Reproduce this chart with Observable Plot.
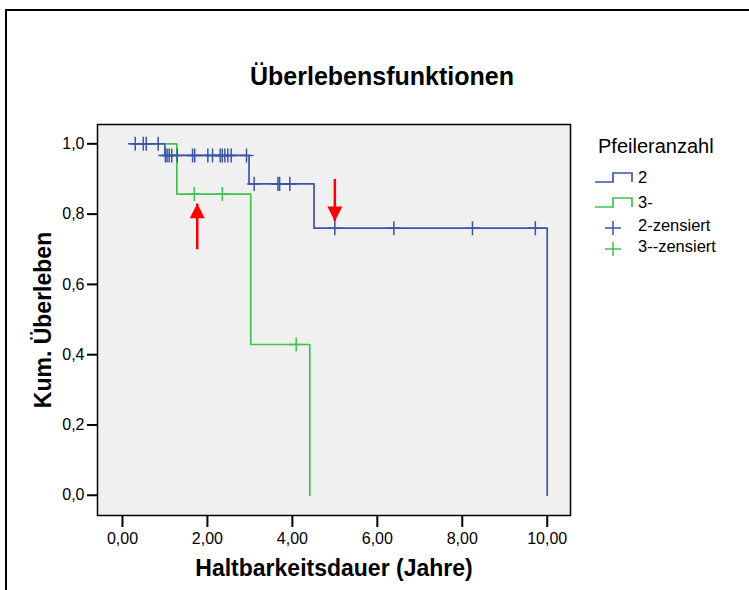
<!DOCTYPE html>
<html>
<head>
<meta charset="utf-8">
<script src="https://cdn.jsdelivr.net/npm/d3@7"></script>
<script src="https://cdn.jsdelivr.net/npm/@observablehq/plot@0.6"></script>
<style>
  body { margin: 0; background: #fff; font-family: "Liberation Sans", Arial, sans-serif; }
  #page { position: relative; width: 749px; height: 590px; overflow: hidden; }
  #border { position: absolute; left: 5px; top: 9px; right: -10px; bottom: -10px;
            border-top: 2px solid #000; border-left: 2px solid #000; }
  #title { position: absolute; left: 0; width: 764px; top: 62px; text-align: center;
           font-weight: bold; font-size: 25px; color: #000; }
  #chart { position: absolute; left: 0; top: 0; }
  #legend { position: absolute; left: 0; top: 0; pointer-events: none; }
</style>
</head>
<body>
<div id="page">
  <div id="border"></div>
  <div id="title">Überlebensfunktionen</div>
  <div id="chart"></div>
  <svg id="legend" width="749" height="590"></svg>
</div>
<script>
// Groups (number of abutments) and their colours
const groups = ["2", "3-"];
const groupColors = ["#3b55a7", "#3ec34e"];

// Kaplan–Meier estimate: step start/change points (time in years, cumulative survival)
const timeG2 = [0.18, 1.00, 2.98, 4.51, 10.00];
const survG2 = [1.000, 0.967, 0.886, 0.760, 0.000];
const timeG3 = [0.71, 1.28, 3.02, 4.41];
const survG3 = [1.000, 0.857, 0.429, 0.000];

// Censored observations (time in years)
const censG2 = [0.30, 0.49, 0.56, 0.84, 1.01, 1.05, 1.10, 1.16, 1.29, 1.65, 1.70,
                2.01, 2.12, 2.30, 2.35, 2.41, 2.48, 2.56, 2.92,
                3.10, 3.66, 3.70, 3.94, 5.00, 6.39, 8.24, 9.72];
const censG3 = [1.69, 2.35, 4.09];

// Red arrows: x position, tail and tip on the survival axis
const arrowX = [1.76, 5.00];
const arrowTail = [0.70, 0.90];
const arrowTip = [0.83, 0.78];

// Axis ticks
const xTicks = [0, 2, 4, 6, 8, 10];
const yTicks = [0, 0.2, 0.4, 0.6, 0.8, 1.0];

// survival level of a step function at time t
function levelAt(times, surv, t) {
  let s = surv[0];
  for (let i = 0; i < times.length; i++) if (times[i] <= t) s = surv[i];
  return s;
}

const curves = [
  ...timeG2.map((t, i) => ({group: groups[0], t, s: survG2[i]})),
  ...timeG3.map((t, i) => ({group: groups[1], t, s: survG3[i]}))
];
const censored = [
  ...censG2.map(t => ({group: groups[0], t, s: levelAt(timeG2, survG2, t)})),
  ...censG3.map(t => ({group: groups[1], t, s: levelAt(timeG3, survG3, t)}))
];
const arrows = arrowX.map((x, i) => ({x, tail: arrowTail[i], tip: arrowTip[i], up: arrowTip[i] > arrowTail[i]}));

// filled arrow heads, tip at the symbol origin
const headUp = {draw(c) { c.moveTo(0, 0); c.lineTo(7.5, 14.6); c.lineTo(-7.5, 14.6); c.closePath(); }};
const headDown = {draw(c) { c.moveTo(0, 0); c.lineTo(7.5, -14.6); c.lineTo(-7.5, -14.6); c.closePath(); }};

const comma = (d, n) => d.toFixed(n).replace(".", ",");
const font = "Liberation Sans, Arial, sans-serif";

const chart = Plot.plot({
  width: 749,
  height: 590,
  marginLeft: 97,
  marginRight: 179,
  marginTop: 124,
  marginBottom: 75,
  style: {fontFamily: font, fontSize: "16px", color: "#000", background: "transparent"},
  x: {domain: [-0.588, 10.548]},
  y: {domain: [-0.0576, 1.055]},
  color: {domain: groups, range: groupColors},
  marks: [
    Plot.frame({fill: "#f0f0f0", stroke: null}),
    Plot.line(curves, {x: "t", y: "s", z: "group", stroke: "group", curve: "step-after", strokeWidth: 1.7}),
    Plot.dot(censored, {x: "t", y: "s", stroke: "group", symbol: "plus", r: 4.6, strokeWidth: 1.5}),
    Plot.link(arrows, {x1: "x", x2: "x", y1: "tail", y2: "tip", stroke: "#ff0000", strokeWidth: 2.5}),
    Plot.dot(arrows.filter(d => d.up), {x: "x", y: "tip", symbol: headUp, fill: "#ff0000", stroke: null}),
    Plot.dot(arrows.filter(d => !d.up), {x: "x", y: "tip", symbol: headDown, fill: "#ff0000", stroke: null}),
    Plot.axisX({ticks: xTicks, tickFormat: d => comma(d, 2), tickSize: 12, tickPadding: 5,
                strokeWidth: 2, fontSize: 16, label: null}),
    Plot.axisY({ticks: yTicks, tickFormat: d => comma(d, 1), tickSize: 10, tickPadding: 3,
                strokeWidth: 2, fontSize: 16, label: null}),
    Plot.text(["Haltbarkeitsdauer (Jahre)"], {frameAnchor: "bottom", dy: 60, text: d => d,
                fontWeight: "bold", fontSize: 23}),
    Plot.text(["Kum. Überleben"], {frameAnchor: "left", dx: -54, rotate: -90, textAnchor: "middle",
                text: d => d, fontWeight: "bold", fontSize: 23}),
    Plot.frame({stroke: "#000", strokeWidth: 1.5})
  ]
});
document.getElementById("chart").appendChild(chart);

// Legend
const lg = d3.select("#legend");
lg.append("text").attr("x", 598).attr("y", 148).attr("dominant-baseline", "middle")
  .attr("font-family", font).attr("font-size", 20).text("Pfeileranzahl");
const stepItems = [
  {label: groups[0], color: groupColors[0], y: 182},
  {label: groups[1], color: groupColors[1], y: 207}
];
stepItems.forEach(d => {
  lg.append("path").attr("d", `M595,${d.y}H613V${d.y - 9}H632V${d.y}`)
    .attr("fill", "none").attr("stroke", d.color).attr("stroke-width", 1.7);
  lg.append("text").attr("x", 638).attr("y", d.y - 3).attr("dominant-baseline", "middle")
    .attr("font-family", font).attr("font-size", 16.5).text(d.label);
});
const censItems = [
  {label: groups[0] + "-zensiert", color: groupColors[0], y: 228},
  {label: groups[1] + "-zensiert", color: groupColors[1], y: 249}
];
censItems.forEach(d => {
  lg.append("path").attr("d", `M605,${d.y}H621M613,${d.y - 7}V${d.y + 7}`)
    .attr("fill", "none").attr("stroke", d.color).attr("stroke-width", 1.5);
  lg.append("text").attr("x", 638).attr("y", d.y - 1).attr("dominant-baseline", "middle")
    .attr("font-family", font).attr("font-size", 16.5).text(d.label);
});
</script>
</body>
</html>
